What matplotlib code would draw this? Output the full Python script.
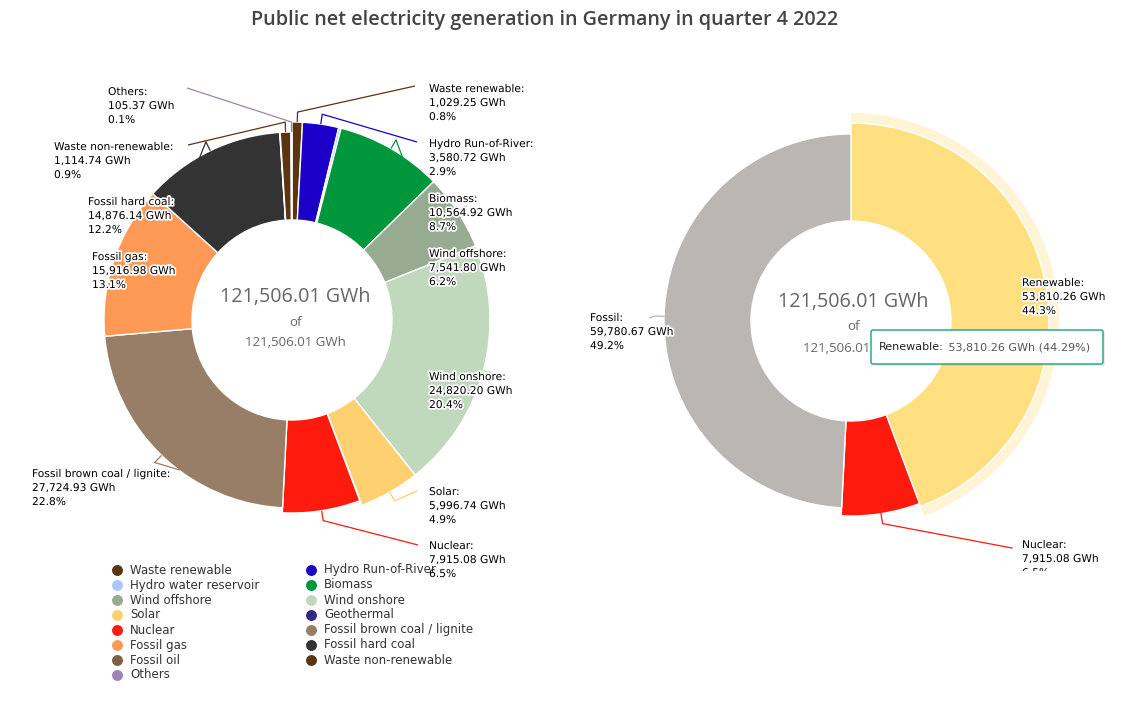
import matplotlib
matplotlib.use("Agg")
import matplotlib.pyplot as plt
from matplotlib import patheffects as pe
from matplotlib.patches import Rectangle, FancyBboxPatch
import numpy as np

# ---------------- data ----------------
sources = ["Waste renewable", "Hydro Run-of-River", "Hydro water reservoir", "Biomass",
           "Wind offshore", "Wind onshore", "Solar", "Geothermal", "Nuclear",
           "Fossil brown coal / lignite", "Fossil gas", "Fossil hard coal", "Fossil oil",
           "Waste non-renewable", "Others"]
generation_gwh = [1029.25, 3580.72, 236.60, 10564.92, 7541.80, 24820.20, 5996.74, 40.03,
                  7915.08, 27724.93, 15916.98, 14876.14, 42.51, 1114.74, 105.37]
source_group = ["R", "R", "R", "R", "R", "R", "R", "R", "N", "F", "F", "F", "F", "F", "F"]
groups = ["Renewable", "Nuclear", "Fossil"]
group_gwh = [53810.26, 7915.08, 59780.67]
total_gwh = 121506.01
title = "Public net electricity generation in Germany in quarter 4 2022"

# ---------------- style ----------------
src_colors = {
    "Waste renewable": "#5a3510", "Hydro Run-of-River": "#1a00c8",
    "Hydro water reservoir": "#aac8f8", "Biomass": "#00963c",
    "Wind offshore": "#96ab90", "Wind onshore": "#c0d8bc", "Solar": "#ffd070",
    "Geothermal": "#30288c", "Nuclear": "#ff1a0e",
    "Fossil brown coal / lignite": "#987e66", "Fossil gas": "#ff9955",
    "Fossil hard coal": "#333333", "Fossil oil": "#7d6048",
    "Waste non-renewable": "#5a3510", "Others": "#9c84b4"}
grp_colors = {"Renewable": "#ffdf80", "Nuclear": "#ff1a0e", "Fossil": "#bab6b2"}
radius_by_group = {"R": 198, "N": 193, "F": 188}

W, H = 1128, 714
fig = plt.figure(figsize=(W / 100, H / 100), dpi=100)
ax = fig.add_axes([0, 0, 1, 1])


def Y(y):
    return H - y


LC = (292, 320)   # left center (px)
RC = (851, 321)   # right center (px)
R_IN = 100

halo = [pe.withStroke(linewidth=2.5, foreground="white")]
LBL_FS = 7.7


def fmt_label(name, v):
    return [f"{name}:", f"{v:,.2f} GWh", f"{100 * v / total_gwh:.1f}%"]


def mid_dir(values, i):
    tot = sum(values)
    start = sum(values[:i]) / tot
    frac = start + values[i] / tot / 2
    ang = np.deg2rad(90 - 360 * frac)
    return np.cos(ang), np.sin(ang)


def draw_label(x, y, lines, clip=None):
    for k, s in enumerate(lines):
        t = ax.text(x, Y(y + 14 * k), s, fontsize=LBL_FS, family="DejaVu Sans",
                    color="#000000", ha="left", va="center", path_effects=halo, zorder=6)
        if clip is not None:
            t.set_clip_path(clip)
            t.set_clip_on(True)


# ---------------- left donut ----------------
wedges, _ = ax.pie(generation_gwh, colors=[src_colors[s] for s in sources],
                   startangle=90, counterclock=False, radius=198,
                   center=(LC[0], Y(LC[1])),
                   wedgeprops=dict(width=98, edgecolor="white", linewidth=1.0))
for w, g in zip(wedges, source_group):
    r = radius_by_group[g]
    w.set_radius(r)
    w.set_width(r - R_IN)

# ---------------- right donut ----------------
grp_r = {"Renewable": 198, "Nuclear": 195, "Fossil": 187}
hw, _ = ax.pie(group_gwh, colors=["#fff4d6", "none", "none"], startangle=90,
               counterclock=False, radius=208, center=(RC[0], Y(RC[1])),
               wedgeprops=dict(width=108, linewidth=0))
for w in hw:
    w.set_zorder(1)
rw, _ = ax.pie(group_gwh, colors=[grp_colors[g] for g in groups], startangle=90,
               counterclock=False, radius=198, center=(RC[0], Y(RC[1])),
               wedgeprops=dict(width=98, edgecolor="white", linewidth=1.0))
for w, g in zip(rw, groups):
    w.set_radius(grp_r[g])
    w.set_width(grp_r[g] - R_IN)
    w.set_zorder(2)

ax.set_xlim(0, W)
ax.set_ylim(0, H)
ax.set_aspect("equal")
ax.axis("off")

left_labels = {  # name: (text x, first-line y, connector end x, connector end y)
    "Others": (108, 92, 187, 88),
    "Waste non-renewable": (54, 147, 188, 145),
    "Fossil hard coal": (88, 202, 183, 200),
    "Fossil gas": (92, 257, 185, 257),
    "Fossil brown coal / lignite": (32, 474, 180, 470),
    "Waste renewable": (429, 89, 415, 86),
    "Hydro Run-of-River": (429, 144, 417, 142),
    "Biomass": (429, 199, 417, 197),
    "Wind offshore": (429, 254, 417, 252),
    "Wind onshore": (429, 377, 417, 375),
    "Solar": (429, 492, 417, 491),
    "Nuclear": (429, 546, 418, 545),
}
for name, (tx, ty, ex, ey) in left_labels.items():
    i = sources.index(name)
    dx, dy = mid_dir(generation_gwh, i)
    r = radius_by_group[source_group[i]]
    p0 = (LC[0] + dx * r, Y(LC[1]) + dy * r)
    p1 = (LC[0] + dx * (r + 10), Y(LC[1]) + dy * (r + 10))
    ax.plot([p0[0], p1[0], ex], [p0[1], p1[1], Y(ey)], color=src_colors[name],
            lw=0.9, zorder=5, solid_capstyle="butt")
    draw_label(tx, ty, fmt_label(name, generation_gwh[i]))

for cx, cy in [(LC[0] + 3, 297), (RC[0] + 2, 302)]:
    ax.text(cx, Y(cy), f"{total_gwh:,.2f} GWh", fontsize=14.2, family="Open Sans",
            color="#666666", ha="center", va="center", zorder=7)
    ax.text(cx, Y(cy + 25), "of", fontsize=9.5, family="Open Sans",
            color="#666666", ha="center", va="center", zorder=7)
    ax.text(cx, Y(cy + 46), f"{total_gwh:,.2f} GWh", fontsize=9.5, family="Open Sans",
            color="#666666", ha="center", va="center", zorder=7)

rclip = Rectangle((560, Y(571)), 568, 571, transform=ax.transData)
right_labels = {
    "Fossil": (590, 318, 650, 318),
    "Renewable": (1022, 283, 1012, 283),
    "Nuclear": (1022, 545, 1012, 548),
}
for name, (tx, ty, ex, ey) in right_labels.items():
    i = groups.index(name)
    dx, dy = mid_dir(group_gwh, i)
    r = grp_r[name]
    p0 = (RC[0] + dx * r, Y(RC[1]) + dy * r)
    p1 = (RC[0] + dx * (r + 10), Y(RC[1]) + dy * (r + 10))
    ax.plot([p0[0], p1[0], ex], [p0[1], p1[1], Y(ey)], color=grp_colors[name],
            lw=0.9, zorder=5)
    draw_label(tx, ty, fmt_label(name, group_gwh[i]), clip=rclip)

# tooltip
shadow = FancyBboxPatch((873, Y(366)), 232, 34, boxstyle="round,pad=0,rounding_size=2",
                        facecolor="#000000", alpha=0.08, lw=0, zorder=8)
ax.add_patch(shadow)
tip = FancyBboxPatch((871, Y(364)), 232, 34, boxstyle="round,pad=0,rounding_size=2",
                     facecolor="white", edgecolor="#1f9e7c", lw=1.0, zorder=8)
ax.add_patch(tip)
t1 = ax.text(879, Y(347), "Renewable:", fontsize=8.0, family="DejaVu Sans",
             color="#222222", ha="left", va="center", zorder=9)
fig.canvas.draw()
bb = t1.get_window_extent()
x_end = ax.transData.inverted().transform((bb.x1, bb.y0))[0]
ax.text(x_end + 1, Y(347),
        f" {group_gwh[0]:,.2f} GWh ({100 * group_gwh[0] / total_gwh:.2f}%)",
        fontsize=8.0, family="DejaVu Sans", color="#555555", ha="left", va="center", zorder=9)

# ---------------- legend ----------------
legend_items = ["Waste renewable", "Hydro Run-of-River", "Hydro water reservoir", "Biomass",
                "Wind offshore", "Wind onshore", "Solar", "Geothermal", "Nuclear",
                "Fossil brown coal / lignite", "Fossil gas", "Fossil hard coal", "Fossil oil",
                "Waste non-renewable", "Others"]
for k, name in enumerate(legend_items):
    col, row = k % 2, k // 2
    mx = 117 if col == 0 else 311
    my = 570 + 15 * row
    ax.scatter([mx], [Y(my)], s=62, color=src_colors[name], zorder=6, linewidths=0)
    ax.text(mx + 13, Y(my), name, fontsize=8.5, family="DejaVu Sans", color="#333333",
            ha="left", va="center", zorder=6)

# title
ax.text(545, Y(20), title, fontsize=14.2, family="Open Sans", weight="semibold",
        color="#444444", ha="center", va="center")

ax.set_xlim(0, W)
ax.set_ylim(0, H)
fig.savefig("out.png", dpi=100)
